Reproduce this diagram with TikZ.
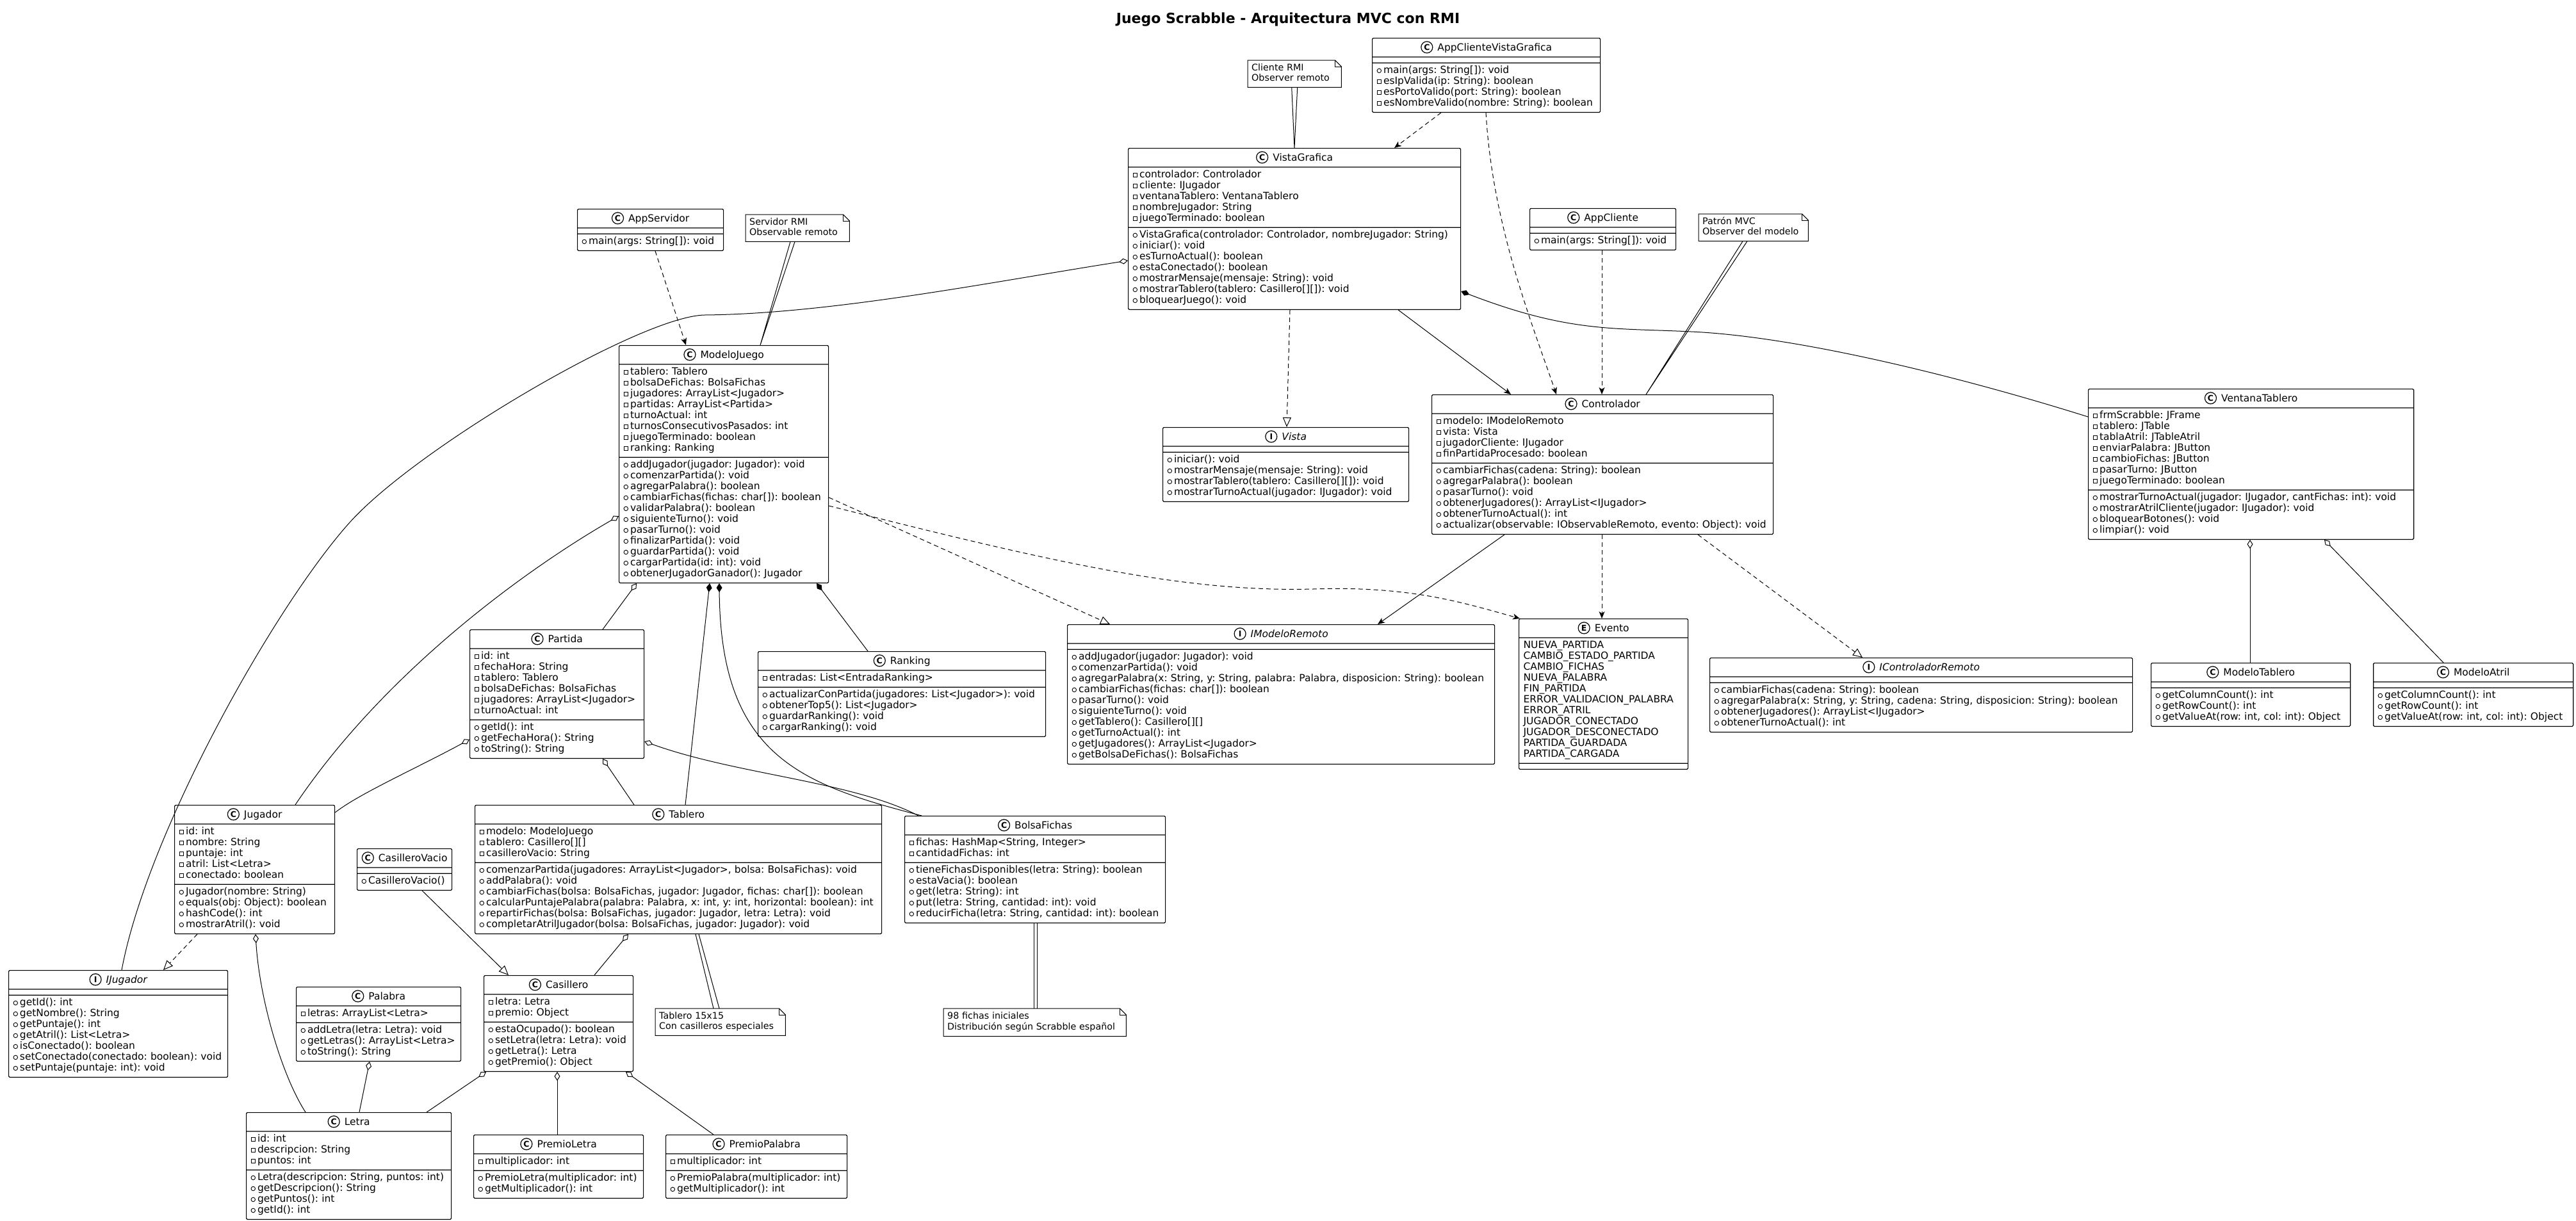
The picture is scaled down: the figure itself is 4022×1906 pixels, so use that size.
\documentclass[tikz,border=0pt]{standalone}
\usepackage{fontspec}
\setmainfont{DejaVu Sans}
\usetikzlibrary{shapes.multipart,arrows.meta,calc}

\newcommand{\vpriv}{\tikz[baseline=0pt]\draw[line width=0.9pt,sharp corners] (0pt,1pt) rectangle (6.5pt,7.5pt);\hspace{3pt}}
\newcommand{\vpub}{\tikz[baseline=0pt]\draw[line width=0.9pt] (3.25pt,4.25pt) circle (3.25pt);\hspace{3pt}}
\newcommand{\icono}[1]{\tikz[baseline=-5.5pt]{\draw[line width=1.2pt] (0pt,0pt) circle (9pt); \pgftext{\fontsize{12.5}{12.5}\selectfont\bfseries #1}}\hspace{7pt}}
\newcommand{\cab}[2]{\centering\strut\mbox{\icono{#1}#2}\par}
\newcommand{\pri}[1]{\strut\mbox{\vpriv#1}\par}
\newcommand{\pub}[1]{\strut\mbox{\vpub#1}\par}
\newcommand{\val}[1]{\strut\mbox{#1}\par}

\tikzset{
    linea/.style={line width=1pt},
    clase/.style={rectangle split, rectangle split parts=3, draw, line width=1.2pt, rounded corners=1.5pt,
        inner xsep=7pt, inner ysep=4pt, text width=#1, align=left, anchor=north west,
        font=\fontsize{15.5}{17}\selectfont,
        rectangle split empty part height=0pt, rectangle split empty part depth=0pt},
    nota/.style={inner xsep=6pt, inner ysep=5pt, text width=#1, align=left, anchor=north west,
        font=\fontsize{14.3}{16}\selectfont},
    dep/.style={linea, dash pattern=on 7pt off 5pt, -{Stealth[length=11pt,width=9pt,inset=3pt]}},
    real/.style={linea, dash pattern=on 7pt off 5pt, -{Triangle[open,length=15pt,width=13pt]}},
    hereda/.style={linea, -{Triangle[open,length=15pt,width=13pt]}},
    asoc/.style={linea, -{Stealth[length=11pt,width=9pt,inset=3pt]}},
    agreg/.style={linea, {Diamond[open,length=14pt,width=9pt]}-},
    compo/.style={linea, {Diamond[length=14pt,width=9pt]}-}
}

\begin{document}
\frenchspacing
\begin{tikzpicture}[x=1pt,y=-1pt] %scrabble
            \fill[white] (0,0) rectangle (4022,1906);
            \useasboundingbox (0,0) rectangle (4022,1906);

            \node[anchor=base, font=\fontsize{22}{26}\selectfont\bfseries] (titulo) at (2011,36) {Juego Scrabble - Arquitectura MVC con RMI};

            % vista y clientes
            \node[clase=342pt] (appcvg) at (2142,59) {\cab{C}{AppClienteVistaGrafica}
                \nodepart{two}
                \nodepart{three}\pub{main(args: String[]): void}\pri{esIpValida(ip: String): boolean}\pri{esPortoValido(port: String): boolean}\pri{esNombreValido(nombre: String): boolean}};
            \node[clase=505pt] (vistagraf) at (1761,231) {\cab{C}{VistaGrafica}
                \nodepart{two}\pri{controlador: Controlador}\pri{cliente: IJugador}\pri{ventanaTablero: VentanaTablero}\pri{nombreJugador: String}\pri{juegoTerminado: boolean}
                \nodepart{three}\pub{VistaGrafica(controlador: Controlador, nombreJugador: String)}\pub{iniciar(): void}\pub{esTurnoActual(): boolean}\pub{estaConectado(): boolean}\pub{mostrarMensaje(mensaje: String): void}\pub{mostrarTablero(tablero: Casillero[][]): void}\pub{bloquearJuego(): void}};
            \node[clase=214pt] (appserv) at (901,326) {\cab{C}{AppServidor}
                \nodepart{two}
                \nodepart{three}\pub{main(args: String[]): void}};
            \node[clase=214pt] (appcli) at (2388,325) {\cab{C}{AppCliente}
                \nodepart{two}
                \nodepart{three}\pub{main(args: String[]): void}};
            \node[clase=370pt] (vista) at (1815,667) {\cab{I}{\itshape Vista}
                \nodepart{two}
                \nodepart{three}\pub{iniciar(): void}\pub{mostrarMensaje(mensaje: String): void}\pub{mostrarTablero(tablero: Casillero[][]): void}\pub{mostrarTurnoActual(jugador: IJugador): void}};
            \node[clase=519pt] (ctrl) at (2235,616) {\cab{C}{Controlador}
                \nodepart{two}\pri{modelo: IModeloRemoto}\pri{vista: Vista}\pri{jugadorCliente: IJugador}\pri{finPartidaProcesado: boolean}
                \nodepart{three}\pub{cambiarFichas(cadena: String): boolean}\pub{agregarPalabra(): boolean}\pub{pasarTurno(): void}\pub{obtenerJugadores(): ArrayList<IJugador>}\pub{obtenerTurnoActual(): int}\pub{actualizar(observable: IObservableRemoto, evento: Object): void}};
            \node[clase=494pt] (ventana) at (3260,607) {\cab{C}{VentanaTablero}
                \nodepart{two}\pri{frmScrabble: JFrame}\pri{tablero: JTable}\pri{tablaAtril: JTableAtril}\pri{enviarPalabra: JButton}\pri{cambioFichas: JButton}\pri{pasarTurno: JButton}\pri{juegoTerminado: boolean}
                \nodepart{three}\pub{mostrarTurnoActual(jugador: IJugador, cantFichas: int): void}\pub{mostrarAtrilCliente(jugador: IJugador): void}\pub{bloquearBotones(): void}\pub{limpiar(): void}};
            \node[clase=297pt] (mtablero) at (3358,1035) {\cab{C}{ModeloTablero}
                \nodepart{two}
                \nodepart{three}\pub{getColumnCount(): int}\pub{getRowCount(): int}\pub{getValueAt(row: int, col: int): Object}};
            \node[clase=298pt] (matril) at (3705,1035) {\cab{C}{ModeloAtril}
                \nodepart{two}
                \nodepart{three}\pub{getColumnCount(): int}\pub{getRowCount(): int}\pub{getValueAt(row: int, col: int): Object}};

            % modelo
            \node[clase=313pt] (modelo) at (966,539) {\cab{C}{ModeloJuego}
                \nodepart{two}\pri{tablero: Tablero}\pri{bolsaDeFichas: BolsaFichas}\pri{jugadores: ArrayList<Jugador>}\pri{partidas: ArrayList<Partida>}\pri{turnoActual: int}\pri{turnosConsecutivosPasados: int}\pri{juegoTerminado: boolean}\pri{ranking: Ranking}
                \nodepart{three}\pub{addJugador(jugador: Jugador): void}\pub{comenzarPartida(): void}\pub{agregarPalabra(): boolean}\pub{cambiarFichas(fichas: char[]): boolean}\pub{validarPalabra(): boolean}\pub{siguienteTurno(): void}\pub{pasarTurno(): void}\pub{finalizarPartida(): void}\pub{guardarPartida(): void}\pub{cargarPartida(id: int): void}\pub{obtenerJugadorGanador(): Jugador}};
            \node[clase=653pt] (imodelo) at (1666,975) {\cab{I}{\itshape IModeloRemoto}
                \nodepart{two}
                \nodepart{three}\pub{addJugador(jugador: Jugador): void}\pub{comenzarPartida(): void}\pub{agregarPalabra(x: String, y: String, palabra: Palabra, disposicion: String): boolean}\pub{cambiarFichas(fichas: char[]): boolean}\pub{pasarTurno(): void}\pub{siguienteTurno(): void}\pub{getTablero(): Casillero[][]}\pub{getTurnoActual(): int}\pub{getJugadores(): ArrayList<Jugador>}\pub{getBolsaDeFichas(): BolsaFichas}};
            \node[clase=250pt] (evento) at (2371,966) {\cab{E}{Evento}
                \nodepart{two}\val{NUEVA\_PARTIDA}\val{CAMBIO\_ESTADO\_PARTIDA}\val{CAMBIO\_FICHAS}\val{NUEVA\_PALABRA}\val{FIN\_PARTIDA}\val{ERROR\_VALIDACION\_PALABRA}\val{ERROR\_ATRIL}\val{JUGADOR\_CONECTADO}\val{JUGADOR\_DESCONECTADO}\val{PARTIDA\_GUARDADA}\val{PARTIDA\_CARGADA}
                \nodepart{three}};
            \node[clase=646pt] (ictrl) at (2669,1027) {\cab{I}{\itshape IControladorRemoto}
                \nodepart{two}
                \nodepart{three}\pub{cambiarFichas(cadena: String): boolean}\pub{agregarPalabra(x: String, y: String, cadena: String, disposicion: String): boolean}\pub{obtenerJugadores(): ArrayList<IJugador>}\pub{obtenerTurnoActual(): int}};
            \node[clase=258pt] (partida) at (733,983) {\cab{C}{Partida}
                \nodepart{two}\pri{id: int}\pri{fechaHora: String}\pri{tablero: Tablero}\pri{bolsaDeFichas: BolsaFichas}\pri{jugadores: ArrayList<Jugador>}\pri{turnoActual: int}
                \nodepart{three}\pub{getId(): int}\pub{getFechaHora(): String}\pub{toString(): String}};
            \node[clase=435pt] (ranking) at (1183,1017) {\cab{C}{Ranking}
                \nodepart{two}\pri{entradas: List<EntradaRanking>}
                \nodepart{three}\pub{actualizarConPartida(jugadores: List<Jugador>): void}\pub{obtenerTop5(): List<Jugador>}\pub{guardarRanking(): void}\pub{cargarRanking(): void}};

            % jugadores y tablero
            \node[clase=236pt] (jugador) at (272,1257) {\cab{C}{Jugador}
                \nodepart{two}\pri{id: int}\pri{nombre: String}\pri{puntaje: int}\pri{atril: List<Letra>}\pri{conectado: boolean}
                \nodepart{three}\pub{Jugador(nombre: String)}\pub{equals(obj: Object): boolean}\pub{hashCode(): int}\pub{mostrarAtril(): void}};
            \node[clase=134pt] (cvacio) at (557,1325) {\cab{C}{CasilleroVacio}
                \nodepart{two}
                \nodepart{three}\pub{CasilleroVacio()}};
            \node[clase=621pt] (tablero) at (741,1257) {\cab{C}{Tablero}
                \nodepart{two}\pri{modelo: ModeloJuego}\pri{tablero: Casillero[][]}\pri{casilleroVacio: String}
                \nodepart{three}\pub{comenzarPartida(jugadores: ArrayList<Jugador>, bolsa: BolsaFichas): void}\pub{addPalabra(): void}\pub{cambiarFichas(bolsa: BolsaFichas, jugador: Jugador, fichas: char[]): boolean}\pub{calcularPuntajePalabra(palabra: Palabra, x: int, y: int, horizontal: boolean): int}\pub{repartirFichas(bolsa: BolsaFichas, jugador: Jugador, letra: Letra): void}\pub{completarAtrilJugador(bolsa: BolsaFichas, jugador: Jugador): void}};
            \node[clase=393pt] (bolsa) at (1412,1274) {\cab{C}{BolsaFichas}
                \nodepart{two}\pri{fichas: HashMap<String, Integer>}\pri{cantidadFichas: int}
                \nodepart{three}\pub{tieneFichasDisponibles(letra: String): boolean}\pub{estaVacia(): boolean}\pub{get(letra: String): int}\pub{put(letra: String, cantidad: int): void}\pub{reducirFicha(letra: String, cantidad: int): boolean}};
            \node[clase=328pt] (ijugador) at (13,1515) {\cab{I}{\itshape IJugador}
                \nodepart{two}
                \nodepart{three}\pub{getId(): int}\pub{getNombre(): String}\pub{getPuntaje(): int}\pub{getAtril(): List<Letra>}\pub{isConectado(): boolean}\pub{setConectado(conectado: boolean): void}\pub{setPuntaje(puntaje: int): void}};
            \node[clase=243pt] (palabra) at (462,1541) {\cab{C}{Palabra}
                \nodepart{two}\pri{letras: ArrayList<Letra>}
                \nodepart{three}\pub{addLetra(letra: Letra): void}\pub{getLetras(): ArrayList<Letra>}\pub{toString(): String}};
            \node[clase=219pt] (casillero) at (755,1523) {\cab{C}{Casillero}
                \nodepart{two}\pri{letra: Letra}\pri{premio: Object}
                \nodepart{three}\pub{estaOcupado(): boolean}\pub{setLetra(letra: Letra): void}\pub{getLetra(): Letra}\pub{getPremio(): Object}};
            \node[clase=306pt] (letra) at (384,1737) {\cab{C}{Letra}
                \nodepart{two}\pri{id: int}\pri{descripcion: String}\pri{puntos: int}
                \nodepart{three}\pub{Letra(descripcion: String, puntos: int)}\pub{getDescripcion(): String}\pub{getPuntos(): int}\pub{getId(): int}};
            \node[clase=251pt] (pletra) at (739,1772) {\cab{C}{PremioLetra}
                \nodepart{two}\pri{multiplicador: int}
                \nodepart{three}\pub{PremioLetra(multiplicador: int)}\pub{getMultiplicador(): int}};
            \node[clase=269pt] (ppalabra) at (1039,1772) {\cab{C}{PremioPalabra}
                \nodepart{two}\pri{multiplicador: int}
                \nodepart{three}\pub{PremioPalabra(multiplicador: int)}\pub{getMultiplicador(): int}};

            % notas
            \node[nota=134pt] (notacli) at (1948,94) {\val{Cliente RMI}\val{Observer remoto}};
            \node[nota=150pt] (notaserv) at (1164,335) {\val{Servidor RMI}\val{Observable remoto}};
            \node[nota=159pt] (notamvc) at (2652,334) {\val{Patrón MVC}\val{Observer del modelo}};
            \node[nota=191pt] (notatab) at (1023,1575) {\val{Tablero 15x15}\val{Con casilleros especiales}};
            \node[nota=273pt] (notabolsa) at (1473,1575) {\val{98 fichas iniciales}\val{Distribución según Scrabble español}};
            \foreach \n in {notacli,notaserv,notamvc,notatab,notabolsa} {
                \draw[linea] (\n.north west) -- ([xshift=-10pt]\n.north east) -- ([yshift=-10pt]\n.north east) -- (\n.south east) -- (\n.south west) -- cycle;
                \draw[linea] ([xshift=-10pt]\n.north east) |- ([yshift=-10pt]\n.north east);
            }
            \draw[linea] ([xshift=-4.5pt]notacli.south) -- ($(vistagraf.north west)+(260,0)$) -- ([xshift=4.5pt]notacli.south);
            \draw[linea] ($(notaserv.south west)+(70,0)$) -- ($(modelo.north west)+(221,0)$) -- ($(notaserv.south west)+(77,0)$);
            \draw[linea] ($(notamvc.south west)+(69,0)$) -- ($(ctrl.north west)+(335,0)$) -- ($(notamvc.south west)+(76,0)$);
            \draw[linea] ($(tablero.south west)+(345,0)$) -- ($(notatab.north west)+(91,0)$);
            \draw[linea] ($(tablero.south west)+(350,0)$) -- ($(notatab.north west)+(100,0)$);
            \draw[linea] ($(bolsa.south west)+(202,0)$) -- ($(notabolsa.north west)+(141,0)$);
            \draw[linea] ($(bolsa.south west)+(207,0)$) -- ($(notabolsa.north west)+(146,0)$);

            % relaciones
            \draw[dep] ($(appcvg.south west)+(108,0)$) -- ($(vistagraf.north west)+(416,0)$);
            \draw[dep] ($(appcvg.south west)+(178,0)$) .. controls (2330,350) and (2390,500) .. ($(ctrl.north west)+(195,0)$);
            \draw[dep] ($(appserv.south west)+(122,0)$) -- ($(modelo.north west)+(105,0)$);
            \draw[dep] ($(appcli.south west)+(113,0)$) -- ($(ctrl.north west)+(266,0)$);
            \draw[real] ($(vistagraf.south west)+(253,0)$) -- ($(vista.north west)+(194,0)$);
            \draw[asoc] ($(vistagraf.south west)+(422,0)$) -- ($(ctrl.north west)+(124,0)$);
            \draw[compo] ($(vistagraf.north east)+(0,224)$) .. controls (2450,520) and (2520,512) .. (2640,518) .. controls (2800,525) and (3050,585) .. ($(ventana.north west)+(0,44)$);
            \draw[agreg] ($(vistagraf.north west)+(0,176)$) .. controls (1550,440) and (1300,490) .. (1100,492) .. controls (1000,494) and (650,700) .. (546,816) .. controls (430,945) and (230,1300) .. ($(ijugador.north west)+(177,0)$);
            \draw[agreg] ($(modelo.north west)+(0,267)$) .. controls (820,890) and (600,1050) .. ($(jugador.north west)+(189,0)$);
            \draw[agreg] ($(modelo.south west)+(28,0)$) -- ($(partida.north west)+(208,0)$);
            \draw[compo] ($(modelo.south west)+(142,0)$) -- ($(tablero.north west)+(329,0)$);
            \draw[compo] ($(modelo.south west)+(157,0)$) .. controls (1125,1180) and (1250,1225) .. ($(bolsa.north west)+(27,0)$);
            \draw[compo] ($(modelo.south west)+(309,0)$) -- ($(ranking.north west)+(172,0)$);
            \draw[real] ($(modelo.north east)+(0,238)$) -- ($(imodelo.north west)+(67,0)$);
            \draw[dep] ($(modelo.north east)+(0,251)$) .. controls (1650,880) and (1850,925) .. (2050,920) .. controls (2200,915) and (2280,940) .. ($(evento.north west)+(2,0)$);
            \draw[agreg] ($(partida.north east)+(0,175)$) .. controls (1150,1210) and (1330,1220) .. ($(bolsa.north west)+(22,0)$);
            \draw[agreg] ($(partida.north west)+(0,172)$) .. controls (650,1200) and (560,1240) .. ($(jugador.north east)+(0,12)$);
            \draw[agreg] ($(partida.south west)+(208,0)$) -- ($(tablero.north west)+(249,0)$);
            \draw[asoc] ($(ctrl.south west)+(114,0)$) -- ($(imodelo.north west)+(485,0)$);
            \draw[dep] ($(ctrl.south west)+(266,0)$) -- ($(evento.north west)+(130,0)$);
            \draw[real] ($(ctrl.south west)+(416,0)$) -- ($(ictrl.north west)+(239,0)$);
            \draw[agreg] ($(ventana.south west)+(253,0)$) -- ($(mtablero.north west)+(155,0)$);
            \draw[agreg] ($(ventana.south west)+(369,0)$) -- ($(matril.north west)+(110,0)$);
            \draw[real] ($(jugador.south west)+(36,0)$) -- ($(ijugador.north west)+(242,0)$);
            \draw[agreg] ($(jugador.south west)+(127,0)$) .. controls (405,1560) and (440,1680) .. ($(letra.north west)+(93,0)$);
            \draw[hereda] ($(cvacio.south west)+(102,0)$) -- ($(casillero.north west)+(39,0)$);
            \draw[agreg] ($(tablero.south west)+(240,0)$) -- ($(casillero.north west)+(173,0)$);
            \draw[agreg] ($(palabra.south west)+(115,0)$) -- ($(letra.north west)+(177,0)$);
            \draw[agreg] ($(casillero.south west)+(4,0)$) -- ($(letra.north east)+(-39,0)$);
            \draw[agreg] ($(casillero.south west)+(115,0)$) -- ($(pletra.north west)+(131,0)$);
            \draw[agreg] ($(casillero.south west)+(222,0)$) -- ($(ppalabra.north west)+(75,0)$);
        \end{tikzpicture}
\end{document}
